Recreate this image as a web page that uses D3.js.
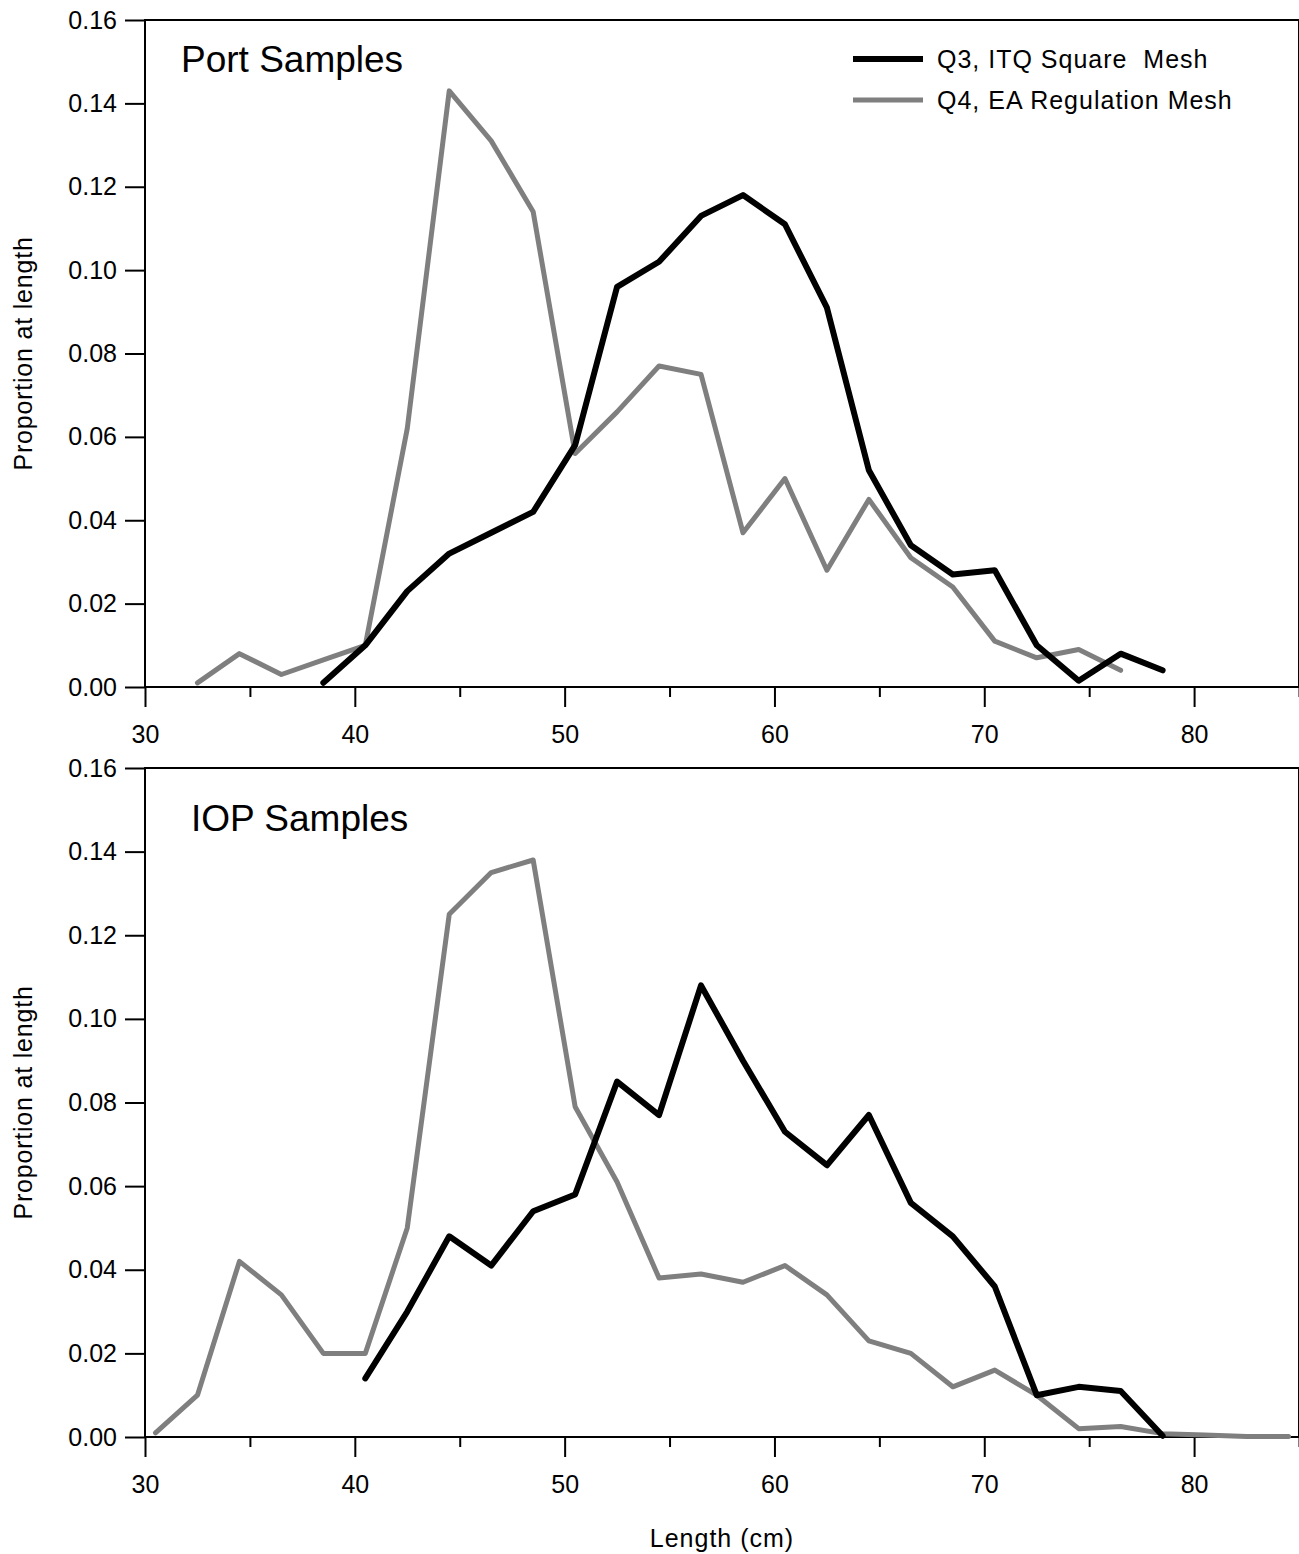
<!DOCTYPE html>
<html>
<head>
<meta charset="utf-8">
<script src="https://cdn.jsdelivr.net/npm/d3@7"></script>
<style>
  body { margin: 0; background: #fff; }
  svg { display: block; font-family: "Liberation Sans", Arial, Helvetica, sans-serif; }
</style>
</head>
<body>
<svg id="chart" width="1299" height="1554"></svg>
<script>
// length class midpoints (cm)
var lengths = [30.5, 32.5, 34.5, 36.5, 38.5, 40.5, 42.5, 44.5, 46.5, 48.5, 50.5, 52.5, 54.5, 56.5,
               58.5, 60.5, 62.5, 64.5, 66.5, 68.5, 70.5, 72.5, 74.5, 76.5, 78.5, 80.5, 82.5, 84.5];

// Port samples (null = no data in that class)
var portQ3 = [null, null, null, null, 0.001, 0.010, 0.023, 0.032, 0.037, 0.042, 0.058, 0.096, 0.102, 0.113,
              0.118, 0.111, 0.091, 0.052, 0.034, 0.027, 0.028, 0.010, 0.0015, 0.008, 0.004, null, null, null];
var portQ4 = [null, 0.001, 0.008, 0.003, 0.0065, 0.010, 0.062, 0.143, 0.131, 0.114, 0.056, 0.066, 0.077, 0.075,
              0.037, 0.050, 0.028, 0.045, 0.031, 0.024, 0.011, 0.007, 0.009, 0.004, null, null, null, null];

// IOP samples
var iopQ3 = [null, null, null, null, null, 0.014, 0.030, 0.048, 0.041, 0.054, 0.058, 0.085, 0.077, 0.108,
             0.090, 0.073, 0.065, 0.077, 0.056, 0.048, 0.036, 0.010, 0.012, 0.011, 0.0003, null, null, null];
var iopQ4 = [0.001, 0.010, 0.042, 0.034, 0.020, 0.020, 0.050, 0.125, 0.135, 0.138, 0.079, 0.061, 0.038, 0.039,
             0.037, 0.041, 0.034, 0.023, 0.020, 0.012, 0.016, 0.010, 0.002, 0.0025, 0.0008, 0.0005, 0.0001, 0.0001];

var yTicks = [0, 0.02, 0.04, 0.06, 0.08, 0.10, 0.12, 0.14, 0.16];
var xMajor = [30, 40, 50, 60, 70, 80];
var xMinor = [35, 45, 55, 65, 75, 85];
var seriesNames = ["Q3, ITQ Square  Mesh", "Q4, EA Regulation Mesh"];
var panelTitles = ["Port Samples", "IOP Samples"];

var svg = d3.select("#chart");
var black = "#000";
var grey = "#7f7f7f";

var x = d3.scaleLinear().domain([30, 85]).range([145, 1299]);

var panels = [
    { top: 20, bottom: 687, title: panelTitles[0], titleX: 181, titleY: 72, q3: portQ3, q4: portQ4, legend: true },
    { top: 768, bottom: 1437, title: panelTitles[1], titleX: 191, titleY: 831, q3: iopQ3, q4: iopQ4, legend: false }
];

function toPoints(vals) {
    return lengths.map(function (l, i) { return { x: l, v: vals[i] }; })
        .filter(function (d) { return d.v != null; });
}

panels.forEach(function (p) {
    var y = d3.scaleLinear().domain([0, 0.16]).range([p.bottom, p.top]);
    var g = svg.append("g");

    // frame
    g.append("rect")
        .attr("x", x(30)).attr("y", p.top)
        .attr("width", x(85) - x(30)).attr("height", p.bottom - p.top)
        .attr("fill", "none").attr("stroke", black).attr("stroke-width", 2);

    // y axis
    var yAxis = d3.axisLeft(y).tickValues(yTicks).tickFormat(d3.format(".2f"))
        .tickSize(20).tickPadding(8);
    var ya = g.append("g").attr("transform", "translate(" + x(30) + ",0)").call(yAxis)
        .attr("font-family", null).attr("font-size", 25);
    ya.select(".domain").remove();
    ya.selectAll("line").attr("stroke-width", 2);
    ya.selectAll("text").attr("fill", black);

    // x axis, major ticks with labels
    var xAxis = d3.axisBottom(x).tickValues(xMajor).tickSize(20).tickPadding(18);
    var xa = g.append("g").attr("transform", "translate(0," + p.bottom + ")").call(xAxis)
        .attr("font-family", null).attr("font-size", 25);
    xa.select(".domain").remove();
    xa.selectAll("line").attr("stroke-width", 2);
    xa.selectAll("text").attr("fill", black);

    // minor ticks
    var xm = g.append("g").attr("transform", "translate(0," + p.bottom + ")")
        .call(d3.axisBottom(x).tickValues(xMinor).tickSize(10).tickFormat(""));
    xm.select(".domain").remove();
    xm.selectAll("line").attr("stroke-width", 2);

    // y title
    g.append("text")
        .attr("transform", "translate(32," + ((p.top + p.bottom) / 2) + ") rotate(-90)")
        .attr("text-anchor", "middle")
        .attr("font-size", 25)
        .attr("letter-spacing", 0.8)
        .text("Proportion at length");

    // panel title
    g.append("text")
        .attr("x", p.titleX).attr("y", p.titleY)
        .attr("font-size", 37)
        .text(p.title);

    var line = d3.line()
        .x(function (d) { return x(d.x); })
        .y(function (d) { return y(d.v); });

    g.append("path").datum(toPoints(p.q4))
        .attr("d", line).attr("fill", "none")
        .attr("stroke", grey).attr("stroke-width", 5)
        .attr("stroke-linejoin", "round").attr("stroke-linecap", "round");

    g.append("path").datum(toPoints(p.q3))
        .attr("d", line).attr("fill", "none")
        .attr("stroke", black).attr("stroke-width", 6)
        .attr("stroke-linejoin", "round").attr("stroke-linecap", "round");

    if (p.legend) {
        var lg = g.append("g");
        [black, grey].forEach(function (c, i) {
            var ly = 59 + i * 41;
            lg.append("line")
                .attr("x1", 853).attr("x2", 923).attr("y1", ly).attr("y2", ly)
                .attr("stroke", c).attr("stroke-width", i === 0 ? 6 : 5);
            lg.append("text")
                .attr("x", 937).attr("y", ly + 9)
                .attr("font-size", 25)
                .attr("letter-spacing", 1)
                .style("white-space", "pre")
                .text(seriesNames[i]);
        });
    }
});

// x title
svg.append("text")
    .attr("x", 722).attr("y", 1547)
    .attr("text-anchor", "middle")
    .attr("font-size", 25)
    .attr("letter-spacing", 1)
    .text("Length (cm)");
</script>
</body>
</html>
